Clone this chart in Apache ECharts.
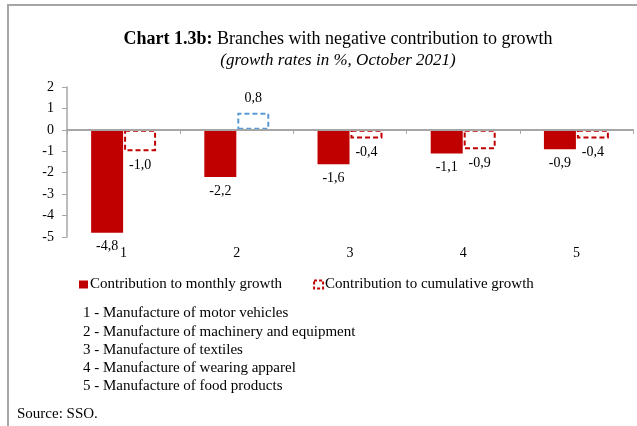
<!DOCTYPE html>
<html>
<head>
<meta charset="utf-8">
<script src="https://cdn.jsdelivr.net/npm/echarts@6/dist/echarts.min.js"></script>
<style>
html,body{margin:0;padding:0;background:#fff;overflow:hidden;}
#chart{width:637px;height:426px;}
</style>
</head>
<body>
<div id="chart"></div>
<script>
var categories = ['1', '2', '3', '4', '5'];
var monthly = [-4.8, -2.2, -1.6, -1.1, -0.9];
var cumulative = [-1.0, 0.8, -0.4, -0.9, -0.4];
var seriesNames = ['Contribution to monthly growth', 'Contribution to cumulative growth'];
var yTicks = [-5, -4, -3, -2, -1, 0, 1, 2];
var notes = [
  '1 - Manufacture of motor vehicles',
  '2 - Manufacture of machinery and equipment',
  '3 - Manufacture of textiles',
  '4 - Manufacture of wearing apparel',
  '5 - Manufacture of food products'
];
var titleBold = 'Chart 1.3b:';
var titleRest = ' Branches with negative contribution to growth';
var subtitle = '(growth rates in %, October 2021)';
var source = 'Source: SSO.';

var FONT = '"Liberation Serif", "Times New Roman", serif';
var RED = '#C00000';
var BLUE = '#5B9BD5';
var GRAY = '#A6A6A6';

function fmt(v) { return v.toFixed(1).replace('.', ','); }

var labelBase = { show: true, fontFamily: FONT, fontSize: 14, color: '#000', distance: 7,
  formatter: function (p) { return fmt(p.value); } };

var monthlyData = monthly.map(function (v) {
  return { value: v, label: { position: v < 0 ? 'bottom' : 'top' } };
});
var cumulativeData = cumulative.map(function (v) {
  var item = { value: v, label: { position: v < 0 ? 'bottom' : 'top' } };
  if (v > 0) item.itemStyle = { borderColor: BLUE };
  return item;
});

var graphics = [
  { type: 'rect', shape: { x: 8, y: 5, width: 700, height: 500 },
    style: { fill: 'none', stroke: GRAY, lineWidth: 2 }, silent: true }
];
notes.forEach(function (t, i) {
  graphics.push({ type: 'text', left: 83, top: 306 + i * 18.1,
    style: { text: t, font: '15px ' + FONT, fill: '#000' } });
});
graphics.push({ type: 'text', left: 17, top: 407,
  style: { text: source, font: '15px ' + FONT, fill: '#000' } });

var chart = echarts.init(document.getElementById('chart'), null, { renderer: 'canvas' });
chart.setOption({
  backgroundColor: '#fff',
  animation: false,
  title: [
    { text: '{b|' + titleBold + '}' + titleRest, left: 333, top: 25, textAlign: 'center',
      textStyle: { fontFamily: FONT, fontSize: 18, fontWeight: 'normal', color: '#000',
        rich: { b: { fontFamily: FONT, fontSize: 18, fontWeight: 'bold', color: '#000' } } } },
    { text: subtitle, left: 333, top: 47, textAlign: 'center',
      textStyle: { fontFamily: FONT, fontSize: 17, fontStyle: 'italic', fontWeight: 'normal', color: '#000' } }
  ],
  legend: {
    data: [
      { name: seriesNames[0] },
      { name: seriesNames[1], itemStyle: { borderType: [3, 2], borderWidth: 2 } }
    ],
    left: 79, top: 277, padding: 0, itemWidth: 9, itemHeight: 8, itemGap: 31,
    icon: 'rect',
    textStyle: { fontFamily: FONT, fontSize: 15, color: '#000', padding: [0, 0, 0, -3] }
  },
  grid: { left: 67, right: 4, top: 87, height: 150, containLabel: false },
  xAxis: [
    { type: 'category', data: categories, position: 'bottom',
      axisLine: { show: false, onZero: false }, axisTick: { show: false },
      axisLabel: { margin: 9, fontFamily: FONT, fontSize: 14, color: '#000' } },
    { type: 'category', data: categories, position: 'bottom',
      axisLine: { show: true, onZero: true, lineStyle: { color: GRAY, width: 2 } },
      axisTick: { show: true, length: 4, lineStyle: { color: GRAY, width: 1 } },
      axisLabel: { show: false }, z: 5 }
  ],
  yAxis: {
    type: 'value', min: yTicks[0], max: yTicks[yTicks.length - 1], interval: 1,
    axisLine: { show: true, lineStyle: { color: GRAY, width: 1.5 } },
    axisTick: { show: true, length: 5, lineStyle: { color: GRAY } },
    splitLine: { show: false },
    axisLabel: { margin: 13, fontFamily: FONT, fontSize: 14, color: '#000' }
  },
  series: [
    { name: seriesNames[0], type: 'bar', xAxisIndex: 0, data: monthlyData,
      barWidth: 32, barGap: '3%',
      itemStyle: { color: RED }, label: labelBase },
    { name: seriesNames[1], type: 'bar', xAxisIndex: 0, data: cumulativeData,
      barWidth: 32, barGap: '3%',
      itemStyle: { color: '#fff', borderColor: RED, borderWidth: 2, borderType: [5, 3] },
      label: labelBase }
  ],
  graphic: graphics
});
</script>
</body>
</html>
